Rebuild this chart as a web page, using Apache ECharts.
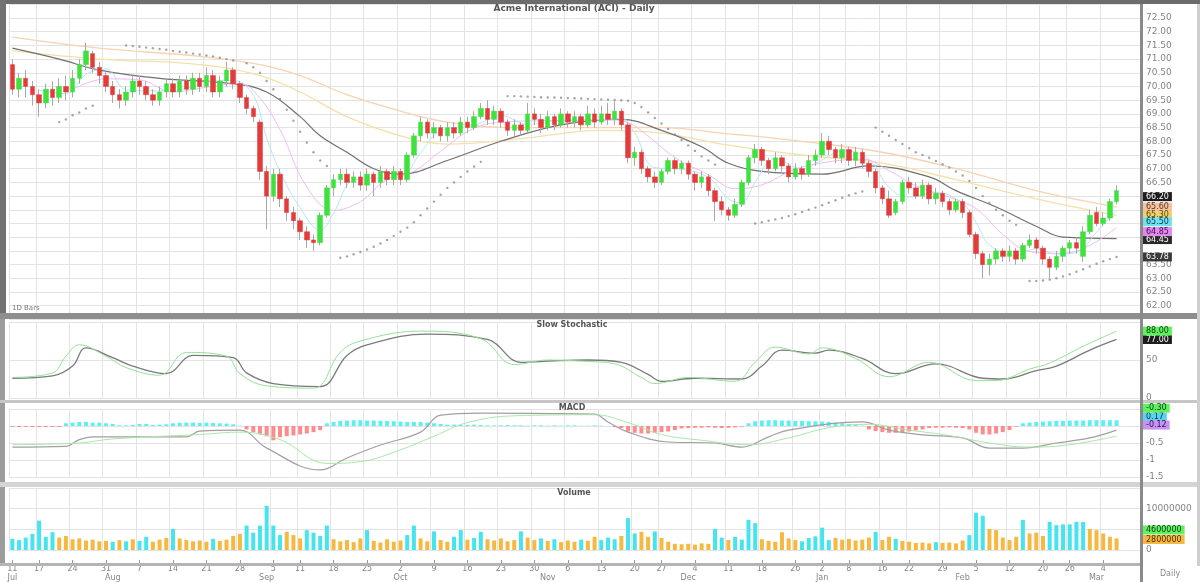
<!DOCTYPE html>
<html><head><meta charset="utf-8">
<script src="https://cdn.jsdelivr.net/npm/echarts/dist/echarts.min.js"></script>
<style>html,body{margin:0;padding:0;background:#fff}#c{width:1200px;height:582px}</style>
</head><body><div id="c"></div>
<script>
// ---- calendar (trading days) ----
const jul23=[11,12,13,14,17,18,19,20,21,24,25,26,27,28,31];
const aug23=[1,2,3,4,7,8,9,10,11,14,15,16,17,18,21,22,23,24,25,28,29,30,31];
const sep23=[1,5,6,7,8,11,12,13,14,15,18,19,20,21,22,25,26,27,28,29];
const oct23=[2,3,4,5,6,9,10,11,12,13,16,17,18,19,20,23,24,25,26,27,30,31];
const nov23=[1,2,3,6,7,8,9,10,13,14,15,16,17,20,21,22,24,27,28,29,30];
const dec23=[1,4,5,6,7,8,11,12,13,14,15,18,19,20,21,22,26,27,28,29];
const jan24=[2,3,4,5,8,9,10,11,12,16,17,18,19,22,23,24,25,26,29,30,31];
const feb24=[1,2,5,6,7,8,9,12,13,14,15,16,20,21,22,23,26,27,28,29];
const mar24=[1,4,5,6];
const monthKeys=['2023-07','2023-08','2023-09','2023-10','2023-11','2023-12','2024-01','2024-02','2024-03'];
const monthNames=['Jul','Aug','Sep','Oct','Nov','Dec','Jan','Feb','Mar'];
const monthDays=[jul23,aug23,sep23,oct23,nov23,dec23,jan24,feb24,mar24];

// ---- price candles [open, close, low, high] ----
const candles=[
[70.8,69.9,69.7,71.0],[69.9,70.3,69.6,70.5],[70.3,70.0,69.6,70.6],[70.0,69.7,69.3,70.2],[69.7,69.4,68.9,69.9],
[69.4,69.9,69.2,70.1],[69.9,69.6,69.3,70.2],[69.6,70.0,69.4,70.3],[70.0,69.8,69.5,70.4],[69.8,70.3,69.6,70.6],
[70.3,70.8,70.1,71.0],[70.8,71.3,70.6,71.6],[71.2,70.7,70.5,71.3],[70.7,70.4,70.1,70.9],[70.4,70.0,69.8,70.6],
[70.0,69.7,69.4,70.2],[69.7,69.5,69.2,69.9],[69.5,69.8,69.3,70.0],[69.8,70.2,69.6,70.4],[70.2,70.0,69.7,70.4],
[70.0,69.7,69.5,70.2],[69.7,69.5,69.3,69.9],[69.5,69.8,69.3,70.0],[69.8,70.1,69.6,70.3],[70.1,69.8,69.6,70.3],
[69.8,70.2,69.6,70.4],[70.2,69.9,69.7,70.4],[69.9,70.3,69.7,70.5],[70.3,70.0,69.8,70.5],[70.0,70.4,69.8,70.7],
[70.4,69.8,69.6,70.6],[69.8,70.2,69.6,70.4],[70.2,70.6,70.0,70.9],[70.6,70.1,69.9,70.7],[70.1,69.6,69.4,70.2],
[69.6,69.2,69.0,69.7],[69.2,68.9,68.7,69.3],[68.7,66.9,66.6,68.8],[66.9,66.0,64.8,67.1],[66.0,66.8,65.8,67.0],
[66.8,65.9,65.6,67.0],[65.9,65.4,65.1,66.0],[65.4,65.1,64.8,65.6],[65.1,64.7,64.4,65.2],[64.7,64.4,64.1,64.9],
[64.4,64.3,64.0,64.6],[64.3,65.3,64.2,65.4],[65.3,66.3,65.2,66.4],[66.3,66.6,66.0,66.8],[66.6,66.8,66.4,67.0],
[66.8,66.5,66.3,67.0],[66.5,66.7,66.3,66.9],[66.7,66.4,66.2,66.9],[66.4,66.8,66.2,67.0],[66.8,66.5,66.0,66.9],
[66.5,66.9,66.3,67.1],[66.9,66.6,66.4,67.0],[66.6,66.9,66.4,67.1],[66.9,66.6,66.4,67.0],[66.6,67.5,66.5,67.6],
[67.5,68.2,67.4,68.3],[68.2,68.7,68.0,68.9],[68.7,68.3,68.1,68.8],[68.3,68.5,68.1,68.7],[68.5,68.2,68.0,68.6],
[68.2,68.5,68.0,68.7],[68.5,68.3,68.1,68.7],[68.3,68.7,68.2,68.9],[68.7,68.5,68.3,68.9],[68.5,68.9,68.4,69.1],
[68.9,69.2,68.8,69.4],[69.2,68.8,68.6,69.5],[68.8,69.1,68.6,69.3],[69.1,68.7,68.5,69.2],[68.7,68.4,68.2,68.8],
[68.4,68.6,68.2,68.8],[68.6,68.4,68.2,68.7],[68.4,69.0,68.3,69.4],[69.0,68.8,68.6,69.2],[68.8,68.5,68.3,69.0],
[68.5,68.9,68.4,69.1],[68.9,68.6,68.4,69.0],[68.6,69.0,68.5,69.2],[69.0,68.7,68.5,69.1],[68.7,68.9,68.5,69.1],
[68.9,68.6,68.4,69.0],[68.6,69.0,68.5,69.3],[69.0,68.7,68.5,69.2],[68.7,69.0,68.6,69.3],[69.0,68.8,68.6,69.4],
[68.8,69.1,68.6,69.5],[69.1,68.6,68.4,69.2],[68.6,67.4,67.2,68.7],[67.4,67.6,67.1,67.8],[67.6,67.0,66.8,67.7],
[67.0,66.7,66.5,67.1],[66.7,66.5,66.3,66.9],[66.5,66.9,66.4,67.0],[66.9,67.3,66.8,67.4],[67.3,67.0,66.8,67.4],
[67.0,67.2,66.8,67.3],[67.2,66.8,66.6,67.3],[66.8,66.5,66.2,66.9],[66.5,66.7,66.3,66.9],[66.7,66.2,66.0,66.8],
[66.2,65.8,65.1,66.3],[65.8,65.5,65.3,66.0],[65.5,65.3,65.1,65.6],[65.3,65.7,65.2,65.9],[65.7,66.5,65.6,66.6],
[66.5,67.4,66.4,67.5],[67.4,67.7,67.2,67.9],[67.7,67.3,67.1,67.8],[67.3,67.0,66.8,67.4],[67.0,67.4,66.9,67.6],
[67.4,67.1,66.9,67.5],[67.1,66.7,66.5,67.2],[66.7,67.0,66.6,67.2],[67.0,66.8,66.6,67.1],[66.8,67.3,66.7,67.5],
[67.3,67.5,67.1,67.7],[67.5,68.0,67.4,68.3],[68.0,67.7,67.5,68.2],[67.7,67.4,67.2,67.8],[67.4,67.7,67.2,67.9],
[67.7,67.3,67.1,67.8],[67.3,67.6,67.1,67.8],[67.6,67.2,67.0,67.7],[67.2,66.9,66.7,67.3],[66.9,66.3,66.1,67.0],
[66.3,65.9,65.7,66.4],[65.9,65.3,65.2,66.2],[65.4,65.8,65.3,65.9],[65.8,66.5,65.7,66.6],[66.5,66.3,66.1,66.7],
[66.3,66.0,65.9,66.5],[66.0,66.4,65.9,66.6],[66.4,65.9,65.7,66.5],[65.9,66.1,65.7,66.3],[66.1,65.8,65.6,66.2],
[65.8,65.5,65.3,65.9],[65.5,65.8,65.4,65.9],[65.8,65.4,65.2,65.9],[65.4,64.6,64.5,65.5],[64.6,63.9,63.7,64.7],
[63.9,63.5,63.0,64.0],[63.5,63.7,63.1,63.9],[63.7,64.0,63.5,64.1],[64.0,63.8,63.6,64.1],[63.8,64.0,63.6,64.2],
[64.0,63.7,63.5,64.1],[63.7,64.2,63.6,64.3],[64.2,64.4,64.1,64.6],[64.4,64.1,63.9,64.5],[64.1,63.7,63.5,64.2],
[63.7,63.4,63.0,63.8],[63.4,63.8,63.3,64.0],[63.8,64.1,63.6,64.2],[64.1,64.3,63.9,64.4],[64.3,64.1,63.9,64.5],
[63.8,64.7,63.6,64.9],[64.7,65.3,64.6,65.5],[65.4,65.0,64.9,65.6],[65.0,65.2,64.9,65.4],[65.2,65.8,65.1,65.9],
[65.8,66.2,65.7,66.4]
];

// ---- overlays: [index, value] ----
const maDark=[[0,71.4],[7,71.0],[13,70.6],[22,70.3],[33,70.1],[38,69.8],[43,68.9],[46,68.2],[50,67.6],[54,67.0],[58,66.8],[65,67.3],[73,68.0],[82,68.6],[91,68.8],[97,68.4],[103,67.8],[107,67.2],[112,66.9],[121,66.8],[128,67.1],[137,66.7],[141,66.2],[147,65.6],[153,64.9],[157,64.5],[165,64.45]];
const maYellow=[[0,71.3],[13,71.0],[28,70.8],[37,70.4],[43,69.8],[50,68.9],[58,68.2],[65,67.9],[76,68.1],[88,68.4],[97,68.3],[106,67.9],[118,67.5],[130,67.2],[141,66.6],[153,65.9],[165,65.3]];
const maPeach=[[0,71.8],[13,71.4],[28,71.1],[37,70.8],[43,70.4],[50,69.7],[58,69.1],[65,68.7],[76,68.5],[88,68.5],[97,68.5],[106,68.3],[118,68.0],[130,67.6],[141,67.0],[153,66.2],[165,65.6]];
const maCyan=[[4,69.86],[8,69.74],[11,70.44],[14,70.64],[17,69.88],[21,69.84],[25,69.88],[29,70.16],[33,70.22],[36,69.68],[38,68.12],[40,66.9],[43,65.58],[46,64.76],[48,65.38],[51,66.58],[55,66.66],[58,66.7],[61,67.58],[64,68.38],[69,68.58],[73,68.94],[77,68.62],[82,68.76],[87,68.78],[91,68.84],[93,68.3],[96,67.04],[100,66.98],[104,66.68],[107,65.9],[109,65.76],[111,66.52],[114,67.36],[118,67.0],[121,67.32],[124,67.66],[128,67.34],[131,66.32],[134,65.96],[138,66.14],[142,65.72],[144,65.04],[146,64.22],[150,63.84],[153,64.08],[156,63.88],[159,63.94],[162,64.68],[165,65.5]];
const maViolet=[[9,69.89],[14,70.28],[19,70.24],[24,69.81],[29,69.97],[34,70.11],[37,69.57],[40,68.42],[44,66.33],[48,65.48],[52,65.8],[56,66.61],[60,66.91],[64,67.64],[69,68.48],[74,68.71],[79,68.75],[84,68.77],[89,68.79],[92,68.68],[95,68.19],[99,67.41],[104,66.78],[108,66.27],[112,66.41],[117,66.98],[122,67.25],[127,67.35],[131,66.93],[135,66.38],[140,65.96],[144,65.54],[148,64.6],[152,63.98],[156,63.91],[160,64.08],[165,64.85]];

// parabolic SAR runs: first index of each run and its values
const sarStart=[7,17,35,49,74,111,129,152];
const sarRuns=[
[68.7,68.8,68.95,69.05,69.2,69.3],
[71.5,71.48,71.45,71.42,71.4,71.37,71.34,71.3,71.27,71.24,71.2,71.17,71.13,71.1,71.05,71.0,70.95],
[70.85,70.7,70.5,70.2,69.9,69.55,69.15,68.75,68.35,67.95,67.6,67.3,67.1],
[63.75,63.8,63.88,63.96,64.05,64.15,64.27,64.4,64.55,64.7,64.85,65.05,65.3,65.55,65.8,66.05,66.3,66.5,66.7,66.9,67.08,67.25],
[69.65,69.65,69.64,69.63,69.62,69.61,69.6,69.6,69.59,69.58,69.57,69.56,69.55,69.54,69.53,69.52,69.51,69.5,69.48,69.4,69.25,69.05,68.85,68.65,68.45,68.25,68.05,67.85,67.65,67.45,67.3,67.15],
[65.0,65.05,65.1,65.15,65.2,65.27,65.34,65.42,65.5,65.58,65.67,65.76,65.85,65.94,66.03,66.1,66.17],
[68.5,68.35,68.2,68.05,67.9,67.75,67.6,67.5,67.4,67.28,67.16,67.04,66.9,66.75,66.55,66.3,66.0,65.75,65.5,65.3,65.1,64.95],
[62.9,62.9,62.92,62.95,63.0,63.07,63.15,63.24,63.33,63.43,63.53,63.62,63.7,63.78]
];

// ---- slow stochastic ----
const stochSlow=[[0,26],[6,29],[9,42],[11,66],[15,53],[18,42],[23,32],[27,56],[33,53],[35,33],[39,19],[46,15],[50,56],[53,70],[62,84],[71,77],[76,47],[81,49],[86,50],[91,47],[95,31],[97,22],[102,26],[109,25],[112,42],[115,63],[120,59],[122,63],[127,52],[132,32],[138,45],[145,26],[148,25],[153,36],[156,42],[161,63],[165,77]];
const stochFast=[[0,27],[6,33],[8,55],[10,70],[14,55],[17,40],[22,30],[26,60],[32,55],[34,32],[38,16],[45,13],[49,60],[52,75],[61,88],[70,78],[75,44],[80,50],[86,48],[90,45],[94,27],[96,19],[101,27],[108,22],[111,47],[114,67],[119,58],[121,66],[126,52],[131,28],[137,47],[144,23],[147,23],[152,38],[155,46],[160,68],[165,88]];

// ---- MACD ----
const macdLine=[[0,-0.62],[8,-0.6],[10,-0.4],[12,-0.32],[26,-0.32],[28,-0.15],[34,-0.12],[38,-0.65],[46,-1.29],[50,-0.94],[55,-0.56],[61,-0.18],[64,0.32],[70,0.38],[87,0.35],[89,0.12],[92,-0.18],[98,-0.47],[105,-0.5],[109,-0.62],[113,-0.32],[116,-0.12],[127,0.12],[131,-0.12],[136,-0.26],[142,-0.35],[146,-0.65],[151,-0.65],[156,-0.5],[161,-0.35],[165,-0.12]];
const macdSignal=[[0,-0.55],[10,-0.5],[15,-0.38],[28,-0.25],[34,-0.18],[40,-0.4],[47,-1.1],[52,-1.05],[58,-0.7],[63,-0.3],[68,0.1],[75,0.3],[87,0.33],[92,0.1],[97,-0.25],[103,-0.42],[110,-0.55],[116,-0.35],[122,-0.05],[128,0.05],[134,-0.12],[140,-0.28],[146,-0.5],[152,-0.62],[158,-0.55],[165,-0.3]];
const macdHist=[
-0.03,-0.03,-0.03,-0.03,-0.03,-0.03,-0.03,-0.03,
0.08,0.1,0.12,0.12,0.1,0.1,0.08,0.06,
0.02,0.02,0.03,0.06,0.06,0.03,0.04,0.05,
0.08,0.09,0.1,0.1,0.09,0.1,0.09,0.08,0.07,0.05,0.01,
-0.1,-0.18,-0.25,-0.3,-0.42,-0.33,-0.3,-0.28,-0.25,-0.22,-0.18,-0.12,
0.08,0.12,0.15,0.16,0.17,0.17,0.16,0.16,0.15,0.15,0.14,0.13,0.12,0.12,0.12,0.1,0.08,0.06,
0.04,0.04,0.03,0.03,0.04,0.03,0.02,0.02,0.02,0.03,0.02,0.02,0.01,0.02,0.02,0.01,0.02,0.01,0.02,0.02,0.01,0.01,0.02,
0.01,0,-0.03,-0.06,
-0.16,-0.2,-0.22,-0.22,-0.2,-0.18,-0.16,-0.12,
-0.07,-0.06,-0.05,-0.05,-0.04,-0.05,-0.06,-0.05,-0.04,-0.02,
0.08,0.14,0.16,0.17,0.17,0.16,0.16,0.15,0.15,0.14,0.14,0.13,0.12,0.1,0.08,0.06,0.04,
0.01,
-0.1,-0.15,-0.18,-0.2,-0.2,-0.18,-0.16,-0.13,-0.1,
-0.06,-0.05,-0.05,-0.04,-0.05,-0.06,-0.1,
-0.2,-0.25,-0.25,-0.22,-0.18,-0.12,
-0.02,
0.08,0.1,0.12,0.13,0.14,0.15,0.15,0.16,0.16,0.16,0.17,0.17,0.17,0.17,0.17
];

// ---- volume (millions) and its up/down side ----
const volume=[
2.7,2.4,3.0,3.9,7.1,3.2,4.3,3.0,3.4,2.6, 2.8,2.3,2.5,2.1,2.2,2.0,2.4,2.1,2.6,2.2,
3.2,2.0,2.5,2.9,5.1,2.8,2.4,2.1,2.3,2.0, 2.7,2.2,2.5,3.4,3.9,5.9,4.2,5.9,10.7,5.9,
3.6,4.4,3.6,2.8,4.8,4.2,3.4,5.9,2.6,2.1, 2.4,1.9,2.8,4.8,2.2,1.8,2.6,2.0,2.3,3.6,
5.9,2.8,2.1,4.5,2.4,2.0,3.2,4.8,2.5,2.9, 4.4,2.6,2.3,2.8,2.1,2.4,4.5,3.0,2.4,2.8,
2.2,2.6,1.9,2.3,2.0,2.5,2.2,3.2,2.4,3.0, 2.6,3.4,7.7,4.0,4.4,3.2,4.5,2.9,2.0,1.5,
1.4,1.5,1.3,1.6,1.5,5.1,3.0,2.4,3.2,2.5, 7.3,6.5,2.6,2.2,2.0,4.3,2.8,2.4,2.1,2.9,
3.3,5.4,2.4,2.9,2.5,2.7,2.3,2.5,3.0,4.4, 2.4,3.2,2.7,2.2,2.0,1.7,1.8,1.6,1.9,1.7,
1.8,1.6,2.3,3.6,9.0,8.3,5.1,4.8,3.0,2.4, 3.2,7.3,4.0,4.2,3.4,6.8,6.0,6.2,6.2,6.8,
6.8,5.1,4.8,4.0,3.2,2.8
];
const volSide="ddddddd"+"uuuuuuuu"+"dududd"+"uuu"+"d"+"uuuuuduuuu"+"dddddd"+"uuu"+"dddd"+"uuuuu"+"d"+"uuuuu"+
"dduuduuddudd"+"uuuuu"+"d"+"uududuuuduud"+"ddudduud"+"uuuuuuuu"+"ddudddd"+"uuuuuu"+"ddddd"+"uuuuuu"+"d"+
"uuduuuuuduuuu"+"ddd"+"uuuuu"+"d"+"uuu"+"dddddd"+"uuuuu";
const volAvgNow=4.6;

// ---- tables built from the arrays ----
const dates=[]; monthDays.forEach((ds,m)=>ds.forEach(d=>dates.push(monthKeys[m]+'-'+String(d).padStart(2,'0'))));
const cats=dates.concat(['','','']);
const weekTick=new Set(), monthTick=new Set([0]);
dates.forEach((d,i)=>{
  if(i===0){weekTick.add(0);return;}
  const a=new Date(d+'T00:00:00Z').getUTCDay(), b=new Date(dates[i-1]+'T00:00:00Z').getUTCDay();
  if(a<=b) weekTick.add(i);
  if(d.slice(0,7)!==dates[i-1].slice(0,7)) monthTick.add(i);
});
const sarData=[]; sarStart.forEach((s,k)=>sarRuns[k].forEach((v,j)=>sarData.push([s+j,v])));
const last=a=>a[a.length-1][1];
const lastClose=candles[candles.length-1][1];

const GRAY='#858585';
const FONT='DejaVu Sans';
const NOLINE={color:'rgba(0,0,0,0)',width:1,type:'solid'};
const TAGLABEL={show:true,position:'end',distance:3,padding:[1,3,0,3],fontSize:8,lineHeight:8,fontFamily:FONT};
function tag(value,bg,fg,text,dy){
  return {silent:true,symbol:'none',lineStyle:NOLINE,animation:false,
    data:[{yAxis:value}],
    label:Object.assign({},TAGLABEL,{formatter:text,backgroundColor:bg,color:fg,offset:[0,dy||0]})};
}
const gridL=9, gridR=60;
function xCat(gi){
  return {type:'category',gridIndex:gi,data:cats,boundaryGap:true,position:'bottom',
    axisLine:{show:false},axisTick:{show:false},axisLabel:{show:false},
    splitLine:{show:true,interval:(i)=>weekTick.has(i),lineStyle:{color:'#e3e3e3',width:1}}};
}
function yVal(gi,min,max,interval,fmt){
  return {type:'value',gridIndex:gi,position:'right',min,max,interval,scale:true,
    axisLine:{show:false},axisTick:{show:false},
    axisLabel:{color:GRAY,fontSize:9,fontFamily:FONT,margin:6,formatter:fmt},
    splitLine:{show:true,lineStyle:{color:'#e3e3e3',width:1}}};
}

const option={
  animation:false,
  backgroundColor:'#ffffff',
  grid:[
    {left:gridL,right:gridR,top:4.3,height:315.1},
    {left:gridL,right:gridR,top:322,height:76},
    {left:gridL,right:gridR,top:409,height:68},
    {left:gridL,right:gridR,top:488,height:62},
    {left:gridL,right:gridR,top:562,height:1}
  ],
  xAxis:[xCat(0),xCat(1),xCat(2),xCat(3),
    {type:'category',gridIndex:4,position:'bottom',data:cats,boundaryGap:true,axisLine:{show:false},
      axisTick:{show:true,alignWithLabel:true,interval:(i)=>weekTick.has(i),length:3,inside:true,lineStyle:{color:'#999'}},
      axisLabel:{interval:(i)=>weekTick.has(i),formatter:(v)=>v?String(Number(v.slice(8))):'',
        fontSize:8,color:GRAY,fontFamily:FONT,margin:2},splitLine:{show:false}},
    {type:'category',gridIndex:4,position:'bottom',offset:9,data:cats,boundaryGap:true,axisLine:{show:false},axisTick:{show:false},
      axisLabel:{interval:(i)=>monthTick.has(i),formatter:(v)=>v?monthNames[monthKeys.indexOf(v.slice(0,7))]:'',
        fontSize:8,color:GRAY,fontFamily:FONT,margin:2},splitLine:{show:false}}
  ],
  yAxis:[
    yVal(0,61.5,73,0.5,(v)=>(v<=61.6||v>=72.9||(v>=63.9&&v<=66.1))?'':v.toFixed(2)),
    yVal(1,0,100,50,(v)=>(v===50||v===0)?String(v):''),
    yVal(2,-1.5,0.5,0.5,(v)=>v<0?String(v):''),
    yVal(3,0,15,5,(v)=>v===0?'0':(v===10?'10000000':'')),
    {type:'value',gridIndex:4,show:false}
  ],
  graphic:[
    {type:'rect',z:100,shape:{x:0,y:0,width:1200,height:4},style:{fill:'#6c6c6c'}},
    {type:'rect',z:100,shape:{x:0,y:0,width:6,height:319},style:{fill:'#727272'}},
    {type:'rect',z:100,shape:{x:0,y:319,width:5,height:247},style:{fill:'#9c9c9c'}},
    {type:'rect',z:100,shape:{x:0,y:313,width:1200,height:6},style:{fill:'#8e8e8e'}},
    {type:'rect',z:100,shape:{x:0,y:400,width:1200,height:3},style:{fill:'#c6c6c6'}},
    {type:'rect',z:100,shape:{x:0,y:482,width:1200,height:5},style:{fill:'#d4d4d4'}},
    {type:'rect',z:100,shape:{x:0,y:563,width:1140,height:3},style:{fill:'#b4b4b4'}},
    {type:'rect',z:100,shape:{x:1140,y:4,width:3,height:578},style:{fill:'#8a8a8a'}},
    {type:'rect',z:100,shape:{x:1197,y:4,width:3,height:562},style:{fill:'#cfcfcf'}},
    {type:'text',z:101,style:{x:574,y:4,text:'Acme International (ACI) - Daily',textAlign:'center',fill:'#555',font:'bold 9px "DejaVu Sans"'}},
    {type:'text',z:101,style:{x:12,y:305,text:'1D Bars',fill:'#777',font:'7px "DejaVu Sans"'}},
    {type:'text',z:101,style:{x:572,y:321,text:'Slow Stochastic',textAlign:'center',fill:'#555',font:'bold 8px "DejaVu Sans"'}},
    {type:'text',z:101,style:{x:572,y:404,text:'MACD',textAlign:'center',fill:'#555',font:'bold 8px "DejaVu Sans"'}},
    {type:'text',z:101,style:{x:574,y:489,text:'Volume',textAlign:'center',fill:'#555',font:'bold 8px "DejaVu Sans"'}},
    {type:'text',z:101,style:{x:1170,y:570,text:'Daily',textAlign:'center',fill:'#888',font:'8px "DejaVu Sans"'}}
  ],
  series:[
    {name:'peach',type:'line',xAxisIndex:0,yAxisIndex:0,data:maPeach,smooth:0.4,showSymbol:false,z:2,
      lineStyle:{color:'#f8d2b2',width:1.3},markLine:tag(last(maPeach),'#f4c2a0','#5a3a20',last(maPeach).toFixed(2),0)},
    {name:'yellow',type:'line',xAxisIndex:0,yAxisIndex:0,data:maYellow,smooth:0.4,showSymbol:false,z:2,
      lineStyle:{color:'#f3e1a8',width:1.3},markLine:tag(last(maYellow),'#f0d070','#5a4a10',last(maYellow).toFixed(2),0)},
    {name:'dark',type:'line',xAxisIndex:0,yAxisIndex:0,data:maDark,smooth:0.4,showSymbol:false,z:2,
      lineStyle:{color:'#707070',width:1.2},markLine:tag(last(maDark),'#2a2a2a','#ffffff',last(maDark).toFixed(2),1)},
    {name:'cyan',type:'line',xAxisIndex:0,yAxisIndex:0,data:maCyan,smooth:0.4,showSymbol:false,z:2,
      lineStyle:{color:'#b2e9f0',width:1},markLine:tag(last(maCyan),'#6fe2f0','#10404a',last(maCyan).toFixed(2),12)},
    {name:'violet',type:'line',xAxisIndex:0,yAxisIndex:0,data:maViolet,smooth:0.4,showSymbol:false,z:2,
      lineStyle:{color:'#eebcf2',width:1},markLine:tag(last(maViolet),'#e488f0','#40104a',last(maViolet).toFixed(2),4)},
    {name:'sar',type:'scatter',xAxisIndex:0,yAxisIndex:0,data:sarData,symbolSize:2.4,z:3,
      itemStyle:{color:'#8e8e8e'},markLine:tag(last(sarData),'#3a3a3a','#ffffff',last(sarData).toFixed(2),0)},
    {name:'wick',type:'candlestick',xAxisIndex:0,yAxisIndex:0,data:candles,barWidth:1,z:4,
      itemStyle:{color:'#a8a8a8',color0:'#a8a8a8',borderColor:'#a8a8a8',borderColor0:'#a8a8a8',borderWidth:1}},
    {name:'price',type:'candlestick',xAxisIndex:0,yAxisIndex:0,z:5,barWidth:5,
      data:candles.map(c=>[c[0],c[1],Math.min(c[0],c[1]),Math.max(c[0],c[1])]),
      itemStyle:{color:'#3fe13f',color0:'#e23b3b',borderColor:'#3fe13f',borderColor0:'#e23b3b',borderWidth:0.5},
      markLine:tag(lastClose,'#1e1e1e','#ffffff',lastClose.toFixed(2),6)},
    {name:'%D',type:'line',xAxisIndex:1,yAxisIndex:1,data:stochSlow,smooth:0.4,showSymbol:false,
      lineStyle:{color:'#7a7a7a',width:1.3},markLine:tag(last(stochSlow),'#1e1e1e','#ffffff',last(stochSlow).toFixed(2),0)},
    {name:'%K',type:'line',xAxisIndex:1,yAxisIndex:1,data:stochFast,smooth:0.4,showSymbol:false,
      lineStyle:{color:'#95e295',width:1},markLine:tag(last(stochFast),'#5ef05e','#103a10',last(stochFast).toFixed(2),0)},
    {name:'hist',type:'bar',xAxisIndex:2,yAxisIndex:2,data:macdHist,barWidth:4,
      itemStyle:{color:(p)=>p.value>=0?'#5cf0f2':'#ff8c8c'},
      markLine:tag(macdHist[macdHist.length-1],'#5ad2f4','#103040',macdHist[macdHist.length-1].toFixed(2),-3)},
    {name:'macd',type:'line',xAxisIndex:2,yAxisIndex:2,data:macdLine,smooth:0.4,showSymbol:false,
      lineStyle:{color:'#a0a0a0',width:1.2},markLine:tag(last(macdLine),'#c892f2','#301040',last(macdLine).toFixed(2),-5)},
    {name:'signal',type:'line',xAxisIndex:2,yAxisIndex:2,data:macdSignal,smooth:0.4,showSymbol:false,
      lineStyle:{color:'#a8e8a8',width:1},markLine:tag(last(macdSignal),'#5ef05e','#103a10',last(macdSignal).toFixed(2),-28)},
    {name:'volume',type:'bar',xAxisIndex:3,yAxisIndex:3,barWidth:4,
      data:volume.map((v,i)=>({value:v,itemStyle:{color:volSide[i]==='u'?'#f6b840':'#46e4ec'}})),
      markLine:{silent:true,symbol:'none',lineStyle:NOLINE,
        data:[{yAxis:volAvgNow,label:{formatter:String(Math.round(volAvgNow*1e6)),backgroundColor:'#62f062',color:'#103a10',offset:[0,-1]}},
              {yAxis:volume[volume.length-1],label:{formatter:String(Math.round(volume[volume.length-1]*1e6)),backgroundColor:'#f6b840',color:'#4a3000',offset:[0,1]}}],
        label:TAGLABEL}},
    {name:'axis',type:'line',xAxisIndex:4,yAxisIndex:4,data:[]}
  ]
};
const chart=echarts.init(document.getElementById('c'),null,{renderer:'canvas'});
chart.setOption(option);
</script>
</body></html>
